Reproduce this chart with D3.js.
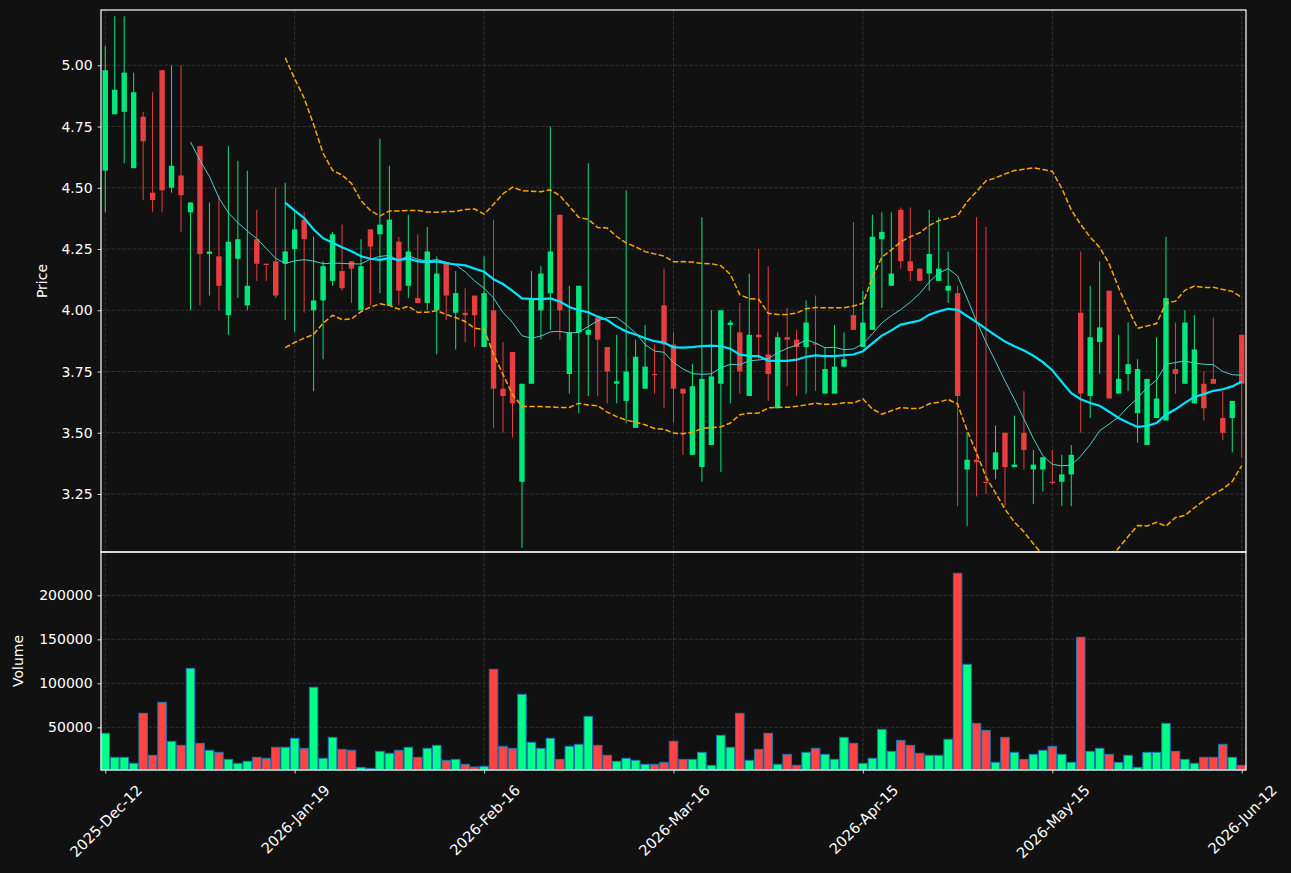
<!DOCTYPE html>
<html lang="en">
<head>
    <meta charset="UTF-8">
    <title>Candlestick chart</title>
    <script src="https://d3js.org/d3.v7.min.js"></script>
    <style>
        body { margin: 0; background: #111111; }
        svg { display: block; }
        text { font-family: "DejaVu Sans", sans-serif; fill: #ffffff; }
    </style>
</head>
<body>
<svg width="1291" height="873"></svg>
<script>
    // ---- data ----
    const openP = [4.57,4.80,4.81,4.58,4.79,4.48,4.98,4.50,4.55,4.40,
                   4.67,4.23,4.22,3.98,4.21,4.02,4.29,4.19,4.20,4.19,
                   4.25,4.37,4.00,4.04,4.12,4.16,4.20,4.00,4.33,4.31,
                   4.02,4.28,4.10,4.05,4.03,4.00,4.19,3.99,3.99,4.06,
                   3.85,4.00,3.68,3.83,3.30,3.70,4.00,4.07,4.39,3.74,
                   3.91,3.90,3.97,3.85,3.70,3.63,3.52,3.68,3.74,4.02,
                   3.86,3.68,3.41,3.36,3.45,3.70,3.94,3.91,3.65,3.90,
                   3.82,3.60,3.89,3.88,3.85,3.865,3.66,3.66,3.77,3.98,
                   3.85,3.92,4.29,4.10,4.41,4.20,4.17,4.15,4.12,4.08,
                   4.07,3.35,3.39,3.30,3.35,3.50,3.36,3.50,3.35,3.35,
                   3.30,3.30,3.33,3.99,3.65,3.87,4.08,3.66,3.74,3.58,
                   3.45,3.56,3.55,3.76,3.70,3.62,3.70,3.72,3.56,3.56,
                   3.90];
    const highP = [5.08,5.20,5.20,4.97,4.81,4.89,4.98,5.00,5.00,4.44,
                   4.67,4.44,4.47,4.67,4.61,4.57,4.41,4.19,4.50,4.52,
                   4.40,4.40,4.30,4.20,4.32,4.35,4.20,4.29,4.33,4.70,
                   4.59,4.30,4.39,4.31,4.34,4.22,4.19,4.16,4.09,4.06,
                   4.22,4.37,3.87,3.83,3.70,4.16,4.18,4.75,4.39,4.10,
                   4.10,4.60,3.97,3.85,3.90,4.49,3.88,3.94,3.86,4.17,
                   3.91,3.68,3.78,4.38,4.00,4.00,3.96,4.03,4.15,4.25,
                   4.18,3.91,4.01,3.92,4.04,4.06,3.85,3.94,3.91,4.36,
                   4.08,4.39,4.40,4.40,4.42,4.42,4.17,4.41,4.38,4.24,
                   4.10,3.50,4.38,4.34,3.53,3.50,3.57,3.67,3.43,3.40,
                   3.43,3.41,3.45,4.24,4.10,4.20,4.08,3.90,3.95,3.80,
                   3.72,3.89,4.30,3.95,4.00,3.98,3.75,3.97,3.67,3.63,
                   3.90];
    const lowP  = [4.40,4.80,4.60,4.58,4.45,4.40,4.40,4.48,4.32,4.00,
                   4.02,4.06,4.00,3.90,4.05,4.00,4.12,4.12,4.05,3.96,
                   3.91,3.99,3.67,3.80,4.10,4.08,4.03,4.00,4.02,4.07,
                   4.02,4.02,4.05,4.03,4.00,3.82,3.96,3.84,3.87,3.85,
                   3.85,3.52,3.50,3.48,3.03,3.70,3.88,3.92,3.88,3.66,
                   3.58,3.65,3.65,3.62,3.62,3.54,3.52,3.68,3.66,3.60,
                   3.54,3.41,3.41,3.30,3.45,3.34,3.62,3.66,3.65,3.80,
                   3.63,3.60,3.69,3.65,3.66,3.67,3.66,3.66,3.77,3.92,
                   3.85,3.92,4.01,4.10,4.17,4.12,4.12,4.08,4.12,4.03,
                   3.20,3.12,3.24,3.25,3.31,3.20,3.36,3.35,3.21,3.26,
                   3.29,3.20,3.20,3.50,3.56,3.74,3.64,3.66,3.67,3.46,
                   3.45,3.56,3.55,3.66,3.70,3.62,3.55,3.70,3.47,3.42,
                   3.40];
    const closeP = [4.98,4.90,4.97,4.89,4.69,4.45,4.49,4.59,4.47,4.44,
                    4.23,4.24,4.10,4.28,4.29,4.10,4.19,4.185,4.06,4.24,
                    4.33,4.29,4.04,4.18,4.31,4.09,4.17,4.18,4.26,4.35,
                    4.37,4.08,4.24,4.03,4.24,4.15,4.06,4.07,3.98,3.98,
                    4.07,3.68,3.65,3.62,3.70,4.05,4.15,4.24,4.00,3.91,
                    4.10,3.92,3.88,3.75,3.71,3.75,3.81,3.77,3.735,3.86,
                    3.68,3.66,3.69,3.72,3.73,4.00,3.95,3.75,3.90,3.89,
                    3.74,3.89,3.88,3.85,3.95,3.86,3.76,3.77,3.80,3.92,
                    3.95,4.30,4.32,4.15,4.20,4.16,4.12,4.23,4.17,4.10,
                    3.65,3.39,3.38,3.295,3.42,3.36,3.37,3.43,3.37,3.40,
                    3.295,3.33,3.41,3.66,3.89,3.93,3.64,3.72,3.78,3.76,
                    3.72,3.64,4.05,3.74,3.95,3.84,3.60,3.70,3.50,3.63,
                    3.70];
    const volume = [43200,15900,15900,9100,65900,18200,78400,34100,29500,117000,
                    31800,23900,21600,13600,9100,11400,15900,14800,27300,27300,
                    37500,26100,95500,14800,38600,25000,23900,4500,3400,22700,
                    20500,23900,27300,15900,26100,29500,12500,13600,8000,4900,
                    5700,115900,28400,26100,87500,33000,26100,37500,13600,28400,
                    30700,62500,29500,18200,11400,14800,12500,8000,8000,10200,
                    34100,13600,13600,21600,6800,40900,27300,65900,12500,25000,
                    43200,8000,19300,6800,21600,26100,19300,13600,38600,31800,
                    9100,14800,47700,22700,35200,29500,20500,18200,18200,36400,
                    225000,121600,54500,46600,10200,38600,21600,13600,19300,23900,
                    28400,19300,10200,152300,22700,26100,19300,10200,18200,4500,
                    21600,21600,54500,22700,13600,9100,15900,15900,30700,15900,
                    6800];

    const tickIdx = [0, 20, 40, 60, 80, 100, 120];
    const tickLabels = ["2025-Dec-12", "2026-Jan-19", "2026-Feb-16", "2026-Mar-16",
                        "2026-Apr-15", "2026-May-15", "2026-Jun-12"];
    const priceTicks = [3.25, 3.50, 3.75, 4.00, 4.25, 4.50, 4.75, 5.00];
    const volumeTicks = [50000, 100000, 150000, 200000];

    const candles = closeP.map((c, i) => ({
        i: i, o: openP[i], h: highP[i], l: lowP[i], c: c, v: volume[i], up: c >= openP[i]
    }));

    // moving averages + bollinger (20, 2 sd) from closes
    function rolling(arr, n, fn) {
        return arr.map((d, i) => i < n - 1 ? null : fn(arr.slice(i - n + 1, i + 1)));
    }
    const ma10 = rolling(closeP, 10, w => d3.mean(w));
    const ma20 = rolling(closeP, 20, w => d3.mean(w));
    const sd20 = rolling(closeP, 20, w => {
        const m = d3.mean(w);
        return Math.sqrt(d3.mean(w, d => (d - m) * (d - m)));
    });
    const bbUp = ma20.map((m, i) => m === null ? null : m + 2 * sd20[i]);
    const bbLo = ma20.map((m, i) => m === null ? null : m - 2 * sd20[i]);

    // ---- layout ----
    const left = 101, right = 1246;
    const pTop = 10, pBot = 552, vTop = 552, vBot = 770;
    const upColor = "#00ff88", downColor = "#ff4444";
    const gridColor = "#3a3a3a";

    const svg = d3.select("svg");
    svg.append("rect").attr("width", 1291).attr("height", 873).attr("fill", "#111111");

    const x = d3.scaleLinear().domain([-0.45, 120.45]).range([left, right]);
    const y = d3.scaleLinear().domain([3.0133, 5.2257]).range([pBot, pTop]);
    const yv = d3.scaleLinear().domain([1500, 249200]).range([vBot, vTop]);

    svg.append("clipPath").attr("id", "clipP")
       .append("rect").attr("x", left).attr("y", pTop).attr("width", right - left).attr("height", pBot - pTop);

    // grid
    function grid(yScale, ticks, top, bot) {
        const g = svg.append("g")
            .attr("stroke", gridColor).attr("stroke-width", 0.8).attr("stroke-dasharray", "3.7,1.6");
        g.selectAll(".hg").data(ticks).enter().append("line")
            .attr("x1", left).attr("x2", right)
            .attr("y1", d => yScale(d)).attr("y2", d => yScale(d));
        g.selectAll(".vg").data(tickIdx).enter().append("line")
            .attr("x1", d => x(d)).attr("x2", d => x(d))
            .attr("y1", top).attr("y2", bot);
    }
    grid(y, priceTicks, pTop, pBot);
    grid(yv, volumeTicks, vTop, vBot);

    // candles
    const bodyW = 5.4;
    const cg = svg.append("g").attr("clip-path", "url(#clipP)").attr("opacity", 0.9);
    cg.selectAll(".wick").data(candles).enter().append("line")
        .attr("x1", d => x(d.i)).attr("x2", d => x(d.i))
        .attr("y1", d => y(d.h)).attr("y2", d => y(d.l))
        .attr("stroke", d => d.up ? upColor : downColor)
        .attr("stroke-width", 1);
    cg.selectAll(".body").data(candles).enter().append("rect")
        .attr("x", d => x(d.i) - bodyW / 2)
        .attr("y", d => y(Math.max(d.o, d.c)))
        .attr("width", bodyW)
        .attr("height", d => Math.max(1, y(Math.min(d.o, d.c)) - y(Math.max(d.o, d.c))))
        .attr("fill", d => d.up ? upColor : downColor);

    // indicator lines
    const lineGen = d3.line()
        .defined(d => d !== null)
        .x((d, i) => x(i))
        .y(d => y(d));
    const lg = svg.append("g").attr("clip-path", "url(#clipP)").attr("fill", "none");
    lg.append("path").attr("d", lineGen(ma10))
        .attr("stroke", "#48d1cc").attr("stroke-width", 1);
    lg.append("path").attr("d", lineGen(ma20))
        .attr("stroke", "#00e5ff").attr("stroke-width", 2.2);
    [bbUp, bbLo].forEach(b => {
        lg.append("path").attr("d", lineGen(b))
            .attr("stroke", "#ffa500").attr("stroke-width", 1.5)
            .attr("stroke-dasharray", "5.5,2.4");
    });

    // volume bars
    const barW = 8.5;
    svg.append("g").selectAll("rect").data(candles).enter().append("rect")
        .attr("x", d => x(d.i) - barW / 2)
        .attr("y", d => yv(d.v))
        .attr("width", barW)
        .attr("height", d => vBot - yv(d.v))
        .attr("fill", d => d.up ? upColor : downColor)
        .attr("stroke", "#1f77b4")
        .attr("stroke-width", 1);

    // axes
    function styleAxis(g) {
        g.select(".domain").remove();
        g.selectAll(".tick line").attr("stroke", "#ffffff").attr("stroke-width", 0.8);
        g.selectAll(".tick text").attr("fill", "#ffffff").attr("font-size", "14px")
            .attr("font-family", "DejaVu Sans");
    }
    svg.append("g").attr("transform", `translate(${left},0)`)
        .call(d3.axisLeft(y).tickValues(priceTicks).tickFormat(d3.format(".2f")).tickSize(3.5).tickPadding(4.9))
        .call(styleAxis);
    svg.append("g").attr("transform", `translate(${left},0)`)
        .call(d3.axisLeft(yv).tickValues(volumeTicks).tickFormat(d3.format("d")).tickSize(3.5).tickPadding(4.9))
        .call(styleAxis);

    const xg = svg.append("g").attr("transform", `translate(0,${vBot})`)
        .call(d3.axisBottom(x).tickValues(tickIdx).tickFormat((d, i) => tickLabels[i]).tickSize(3.5))
        .call(styleAxis);
    xg.selectAll(".tick text").attr("font-size", "14.6px").each(function () {
        const t = d3.select(this);
        const w = this.getComputedTextLength();
        const ext = (w + 15) * Math.SQRT1_2;
        t.attr("text-anchor", "middle").attr("dy", null).attr("y", null)
         .attr("dominant-baseline", "central")
         .attr("transform", `translate(0,${12 + ext / 2}) rotate(-45)`);
    });

    // frames
    [[pTop, pBot], [vTop, vBot]].forEach(([t, b]) => {
        svg.append("rect").attr("x", left).attr("y", t)
            .attr("width", right - left).attr("height", b - t)
            .attr("fill", "none").attr("stroke", "#ffffff").attr("stroke-width", 1.2);
    });

    // axis titles
    svg.append("text").attr("transform", `translate(47,${(pTop + pBot) / 2}) rotate(-90)`)
        .attr("text-anchor", "middle").attr("font-size", "14px").text("Price");
    svg.append("text").attr("transform", `translate(23,${(vTop + vBot) / 2}) rotate(-90)`)
        .attr("text-anchor", "middle").attr("font-size", "14px").text("Volume");
</script>
</body>
</html>
